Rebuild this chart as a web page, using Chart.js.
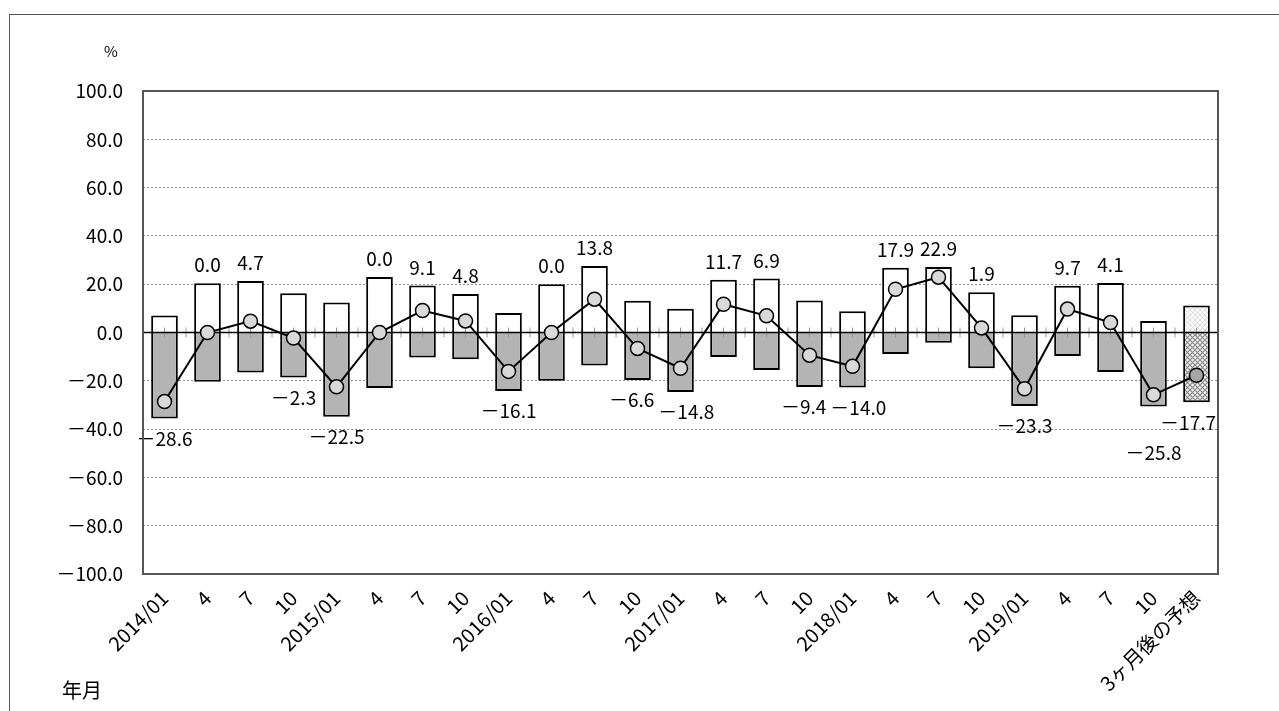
<!DOCTYPE html>
<html>
<head>
<meta charset="utf-8">
<script src="https://cdn.jsdelivr.net/npm/chart.js@4/dist/chart.umd.min.js"></script>
<style>
  html, body { margin: 0; padding: 0; background: #fff; overflow: hidden; }
  #frame { position: absolute; left: 9px; top: 14px; width: 1300px; height: 760px; border-left: 1.5px solid #555; border-top: 1.5px solid #555; }
  #wrap { position: absolute; left: 0; top: 0; width: 1279px; height: 730px; }
  .lbl { position: absolute; font-family: "Noto Sans CJK JP", sans-serif; color: #000; }
</style>
</head>
<body>
<div id="frame"></div>
<div id="wrap"><canvas id="chart"></canvas></div>
<div class="lbl" style="left:104px; top:40px; font-size:15px;">%</div>
<div class="lbl" style="left:62px; top:675px; font-size:20px;">年月</div>
<script>
const categories = ['2014/01', '4', '7', '10', '2015/01', '4', '7', '10', '2016/01', '4', '7', '10',
  '2017/01', '4', '7', '10', '2018/01', '4', '7', '10', '2019/01', '4', '7', '10', '3ヶ月後の予想'];

// 上昇 (white bars) and 下降 (gray bars), percent
const upShares = [7.0, 20.4, 21.3, 16.3, 12.4, 23.0, 19.5, 15.9, 8.1, 20.0, 27.5, 13.1,
  9.8, 21.8, 22.4, 13.2, 8.8, 26.8, 27.1, 16.7, 7.1, 19.4, 20.5, 4.8, 11.2];
const downShares = [-35.6, -20.4, -16.6, -18.6, -34.9, -23.0, -10.4, -11.1, -24.2, -20.0, -13.7, -19.7,
  -24.6, -10.1, -15.5, -22.6, -22.8, -8.9, -4.2, -14.8, -30.4, -9.7, -16.4, -30.6, -28.9];

// DI line
const diValues = [-28.6, 0.0, 4.7, -2.3, -22.5, 0.0, 9.1, 4.8, -16.1, 0.0, 13.8, -6.6,
  -14.8, 11.7, 6.9, -9.4, -14.0, 17.9, 22.9, 1.9, -23.3, 9.7, 4.1, -25.8, -17.7];

const yTicks = [-100, -80, -60, -40, -20, 0, 20, 40, 60, 80, 100];

const FONT = '"Noto Sans CJK JP", sans-serif';
const lastIdx = categories.length - 1;

function fmt(v) {
  return (v < 0 ? '\uFF0D' : '') + Math.abs(v).toFixed(1);
}

function makePattern(bg, fg, size, dense) {
  const c = document.createElement('canvas');
  c.width = size; c.height = size;
  const g = c.getContext('2d');
  g.fillStyle = bg;
  g.fillRect(0, 0, size, size);
  g.strokeStyle = fg;
  g.lineWidth = dense ? 1.2 : 0.8;
  g.beginPath();
  g.moveTo(0, 0); g.lineTo(size, size);
  g.moveTo(size, 0); g.lineTo(0, size);
  g.stroke();
  return g.createPattern(c, 'repeat');
}

const lightPattern = makePattern('#ffffff', '#d0d0d0', 5, false);
const darkPattern = makePattern('#f4f4f4', '#8a8a8a', 5, true);

const upColors = categories.map((c, i) => i === lastIdx ? lightPattern : '#ffffff');
const downColors = categories.map((c, i) => i === lastIdx ? darkPattern : '#b4b4b4');
const pointColors = categories.map((c, i) => i === lastIdx ? '#a6a6a6' : '#d9d9d9');

const frameAndZero = {
  id: 'frameAndZero',
  afterDatasetDraw(chart, args) {
    if (args.index !== 0) return;
    const ctx = chart.ctx;
    const area = chart.chartArea;
    const x = chart.scales.x;
    const y0 = chart.scales.y.getPixelForValue(0);
    const half = (x.getPixelForValue(1) - x.getPixelForValue(0)) / 2;
    ctx.save();
    // small ticks on the zero line, at category centres and boundaries
    ctx.strokeStyle = '#9a9a9a';
    ctx.lineWidth = 1;
    ctx.beginPath();
    for (let i = 0; i < categories.length; i++) {
      const cx = x.getPixelForValue(i);
      ctx.moveTo(cx, y0 - 5); ctx.lineTo(cx, y0 + 5);
      if (i < lastIdx) { ctx.moveTo(cx + half, y0 - 5); ctx.lineTo(cx + half, y0 + 5); }
    }
    ctx.stroke();
    ctx.strokeStyle = '#000';
    ctx.lineWidth = 1.5;
    ctx.beginPath();
    ctx.moveTo(area.left, y0);
    ctx.lineTo(area.right, y0);
    ctx.stroke();
    ctx.restore();
  },
  afterDraw(chart) {
    const ctx = chart.ctx;
    const a = chart.chartArea;
    ctx.save();
    ctx.strokeStyle = '#555';
    ctx.lineWidth = 2;
    ctx.strokeRect(a.left, a.top, a.right - a.left, a.bottom - a.top);
    ctx.restore();
  }
};

const diLabels = {
  id: 'diLabels',
  afterDatasetsDraw(chart) {
    const ctx = chart.ctx;
    const y = chart.scales.y;
    const area = chart.chartArea;
    const meta = chart.getDatasetMeta(2);
    ctx.save();
    ctx.font = '19px ' + FONT;
    ctx.fillStyle = '#000';
    ctx.textAlign = 'center';
    ctx.textBaseline = 'middle';

    const items = diValues.map((v, i) => {
      const neg = v < 0;
      return {
        text: fmt(v),
        neg: neg,
        x: meta.data[i].x,
        x0: meta.data[i].x,
        y: neg ? y.getPixelForValue(downShares[i]) + 20 : y.getPixelForValue(upShares[i]) - 18,
        w: ctx.measureText(fmt(v)).width
      };
    });

    // keep neighbouring labels from overlapping
    for (let i = 0; i < items.length - 1; i++) {
      const a = items[i], b = items[i + 1];
      if (a.neg !== b.neg || Math.abs(a.y - b.y) > 20) continue;
      let overlap = (a.w + b.w) / 2 + 4 - (b.x - a.x);
      if (overlap <= 0) continue;
      a.x -= overlap / 2;
      b.x += overlap / 2;
      if (b.x + b.w / 2 > area.right - 2) {
        b.x = area.right - 2 - b.w / 2;
        a.x = a.x0;
        overlap = (a.w + b.w) / 2 + 4 - (b.x - a.x);
        if (overlap > 0) a.y += a.neg ? 26 : -26;
      }
    }

    items.forEach(it => ctx.fillText(it.text, it.x, it.y));
    ctx.restore();
  }
};

new Chart(document.getElementById('chart'), {
  data: {
    labels: categories,
    datasets: [
      {
        type: 'bar',
        label: '上昇',
        data: upShares,
        backgroundColor: upColors,
        borderColor: '#000',
        borderWidth: 2,
        borderSkipped: 'start',
        barPercentage: 0.62,
        categoryPercentage: 1.0,
        order: 1
      },
      {
        type: 'bar',
        label: '下降',
        data: downShares,
        backgroundColor: downColors,
        borderColor: '#000',
        borderWidth: 2,
        borderSkipped: 'start',
        barPercentage: 0.62,
        categoryPercentage: 1.0,
        order: 1
      },
      {
        type: 'line',
        label: 'DI',
        data: diValues,
        borderColor: '#000',
        borderWidth: 2,
        tension: 0,
        pointRadius: 7,
        pointBackgroundColor: pointColors,
        pointBorderColor: '#000',
        pointBorderWidth: 1.5,
        order: 0
      }
    ]
  },
  options: {
    responsive: true,
    maintainAspectRatio: false,
    animation: false,
    layout: { padding: { left: 0, top: 91, right: 61, bottom: 0 } },
    plugins: {
      legend: { display: false },
      tooltip: { enabled: false }
    },
    scales: {
      x: {
        stacked: true,
        grid: { display: false, drawTicks: false },
        border: { display: false },
        ticks: {
          autoSkip: false,
          minRotation: 45,
          maxRotation: 45,
          padding: 12,
          color: '#000',
          font: { family: FONT, size: 20 }
        },
        afterFit(scale) { scale.height = 156; }
      },
      y: {
        min: -100,
        max: 100,
        afterBuildTicks(scale) { scale.ticks = yTicks.map(v => ({ value: v })); },
        grid: {
          drawTicks: false,
          color: ctx => (ctx.tick && (ctx.tick.value === 0 || Math.abs(ctx.tick.value) === 100)) ? 'rgba(0,0,0,0)' : '#8c8c8c',
          lineWidth: 1
        },
        border: { display: false, dash: [2, 2] },
        ticks: {
          padding: 20,
          color: '#000',
          font: { family: FONT, size: 19 },
          callback: v => fmt(v)
        },
        afterFit(scale) { scale.width = 143; }
      }
    }
  },
  plugins: [frameAndZero, diLabels]
});
</script>
</body>
</html>
